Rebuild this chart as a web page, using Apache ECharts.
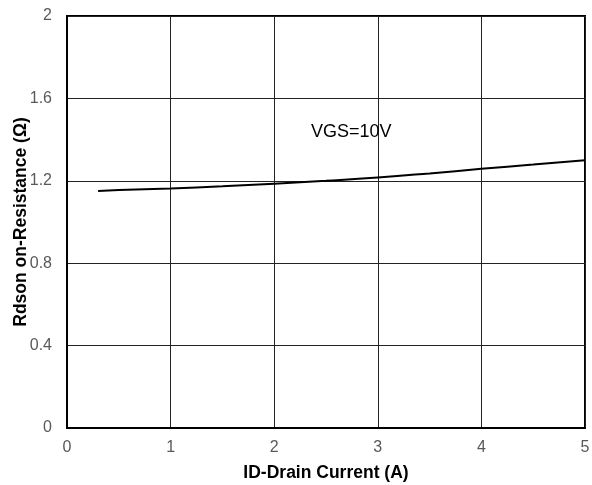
<!DOCTYPE html>
<html><head><meta charset="utf-8">
<script src="https://cdn.jsdelivr.net/npm/echarts@6/dist/echarts.min.js"></script>
<style>html,body{margin:0;padding:0;background:#fff}#c{width:592px;height:485px}</style>
</head><body><div id="c"></div>
<script>
var xVals = [0.3, 0.5, 1, 1.5, 2, 2.5, 3, 3.5, 4, 4.5, 5];
var rdson = [1.150, 1.155, 1.163, 1.173, 1.186, 1.200, 1.216, 1.236, 1.258, 1.279, 1.300];
var xTicks = [0, 1, 2, 3, 4, 5];
var yTicks = [0, 0.4, 0.8, 1.2, 1.6, 2];
var labelText = 'VGS=10V';
var labelPos = [2.355, 1.439];

var chart = echarts.init(document.getElementById('c'));
chart.setOption({
  animation: false,
  grid: {left: 67, right: 7, top: 16, bottom: 57, show: true, borderColor: '#000', borderWidth: 2,
    containLabel: false, outerBoundsMode: 'none'},
  xAxis: {
    type: 'value', min: 0, max: 5, interval: 1,
    name: 'ID-Drain Current (A)', nameLocation: 'middle', nameGap: 36, nameMoveOverlap: false,
    nameTextStyle: {fontFamily: 'Liberation Sans', fontWeight: 'bold', fontSize: 17.5, color: '#000'},
    axisLine: {show: true, lineStyle: {color: '#000', width: 2}},
    axisTick: {show: false},
    axisLabel: {fontFamily: 'Liberation Sans', fontSize: 16, color: '#595959', margin: 12},
    splitLine: {show: true, lineStyle: {color: '#222', width: 1}}
  },
  yAxis: {
    type: 'value', min: 0, max: 2, interval: 0.4,
    name: 'Rdson on-Resistance (Ω)', nameLocation: 'middle', nameGap: 37, nameMoveOverlap: false,
    nameTextStyle: {fontFamily: 'Liberation Sans', fontWeight: 'bold', fontSize: 17.5, color: '#000'},
    axisLine: {show: true, lineStyle: {color: '#000', width: 2}},
    axisTick: {show: false},
    axisLabel: {fontFamily: 'Liberation Sans', fontSize: 16, color: '#595959', margin: 15,
      formatter: function(v){ return String(Math.round(v*10)/10); }},
    splitLine: {show: true, lineStyle: {color: '#222', width: 1}}
  },
  series: [{
    type: 'line', smooth: true, symbol: 'none',
    data: xVals.map(function(x,i){return [x, rdson[i]];}),
    lineStyle: {color: '#000', width: 2},
    markPoint: {
      symbol: 'rect', symbolSize: 0,
      data: [{coord: labelPos, label: {show: true, formatter: labelText, position: 'right', distance: 0,
        fontFamily: 'Liberation Sans', fontSize: 18, color: '#000'}}]
    }
  }]
});
</script></body></html>
